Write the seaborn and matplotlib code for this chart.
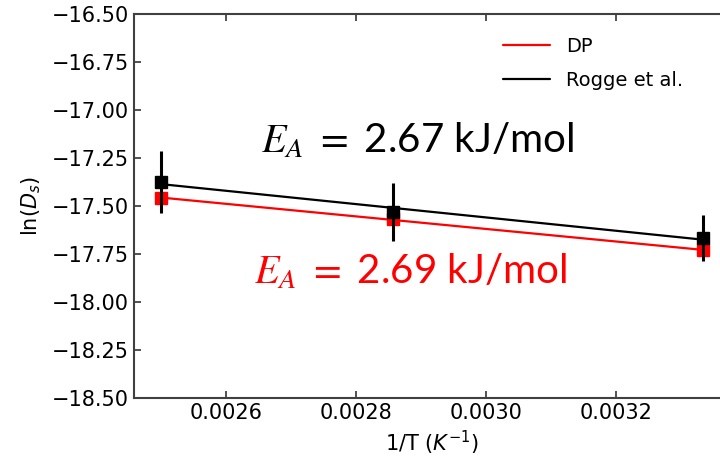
import matplotlib
matplotlib.use('Agg')
import matplotlib.pyplot as plt
import numpy as np
import pandas as pd
import seaborn as sns

# 1/T for 400 K, 350 K, 300 K
inv_T = [1 / 400, 1 / 350, 1 / 300]
ln_ds_dp = [-17.458, -17.57, -17.73]
ln_ds_rogge = [-17.375, -17.53, -17.667]
err_rogge = [0.16, 0.15, 0.12]
x_ticks = [0.0026, 0.0028, 0.0030, 0.0032]
y_ticks = [-16.50, -16.75, -17.00, -17.25, -17.50, -17.75, -18.00, -18.25, -18.50]

df = pd.DataFrame({'inv_T': inv_T, 'dp': ln_ds_dp, 'rogge': ln_ds_rogge, 'err': err_rogge})

sns.set_style('ticks')
plt.rcParams['font.family'] = ['DejaVu Sans']
plt.rcParams['mathtext.fontset'] = 'dejavusans'
plt.rcParams['xtick.direction'] = 'in'
plt.rcParams['ytick.direction'] = 'in'
plt.rcParams['text.color'] = 'black'
plt.rcParams['axes.labelcolor'] = 'black'
plt.rcParams['xtick.labelcolor'] = 'black'
plt.rcParams['ytick.labelcolor'] = 'black'

fig = plt.figure(figsize=(7.2, 4.61), dpi=100)
ax = fig.add_axes([0.186, 0.1367, 0.828, 0.833])

# fitted Arrhenius lines
sns.regplot(data=df, x='inv_T', y='dp', scatter=False, ci=None, color='red',
            label='DP', line_kws={'lw': 1.6}, ax=ax)
sns.regplot(data=df, x='inv_T', y='rogge', scatter=False, ci=None, color='black',
            label='Rogge et al.', line_kws={'lw': 1.6}, ax=ax)

ax.plot(df['inv_T'], df['dp'], 's', color='red', ms=8.5, zorder=4)
ax.errorbar(df['inv_T'], df['rogge'], yerr=df['err'], fmt='s', color='black',
            ms=8.5, elinewidth=2.2, capsize=0, zorder=5)

ax.set_xlim(0.002458, 0.003375)
ax.set_ylim(-18.5, -16.5)
ax.set_xticks(x_ticks)
ax.set_yticks(y_ticks)
ax.tick_params(axis='both', which='both', labelsize=15, top=True, right=True,
               length=5, width=1.2, color='#333333', labelcolor='black')
for s in ax.spines.values():
    s.set_color('#404040')
    s.set_linewidth(1.5)

ax.set_xlabel(r'1/T ($K^{-1}$)', fontsize=15)
ax.set_ylabel(r'ln($D_s$)', fontsize=15, labelpad=6)

ax.legend(loc='upper right', bbox_to_anchor=(0.95, 0.985), frameon=False,
          fontsize=14, handlelength=2.4, labelspacing=0.75)

fig.text(0.362, 0.695, r'$\mathit{E_A}\ =$ 2.67 kJ/mol', fontsize=29, color='black',
         family=['Lato', 'DejaVu Sans'], math_fontfamily='stix', va='center', ha='left')
fig.text(0.353, 0.412, r'$\mathit{E_A}\ =$ 2.69 kJ/mol', fontsize=29, color='red',
         family=['Lato', 'DejaVu Sans'], math_fontfamily='stix', va='center', ha='left')

fig.savefig('out.png', dpi=100)
